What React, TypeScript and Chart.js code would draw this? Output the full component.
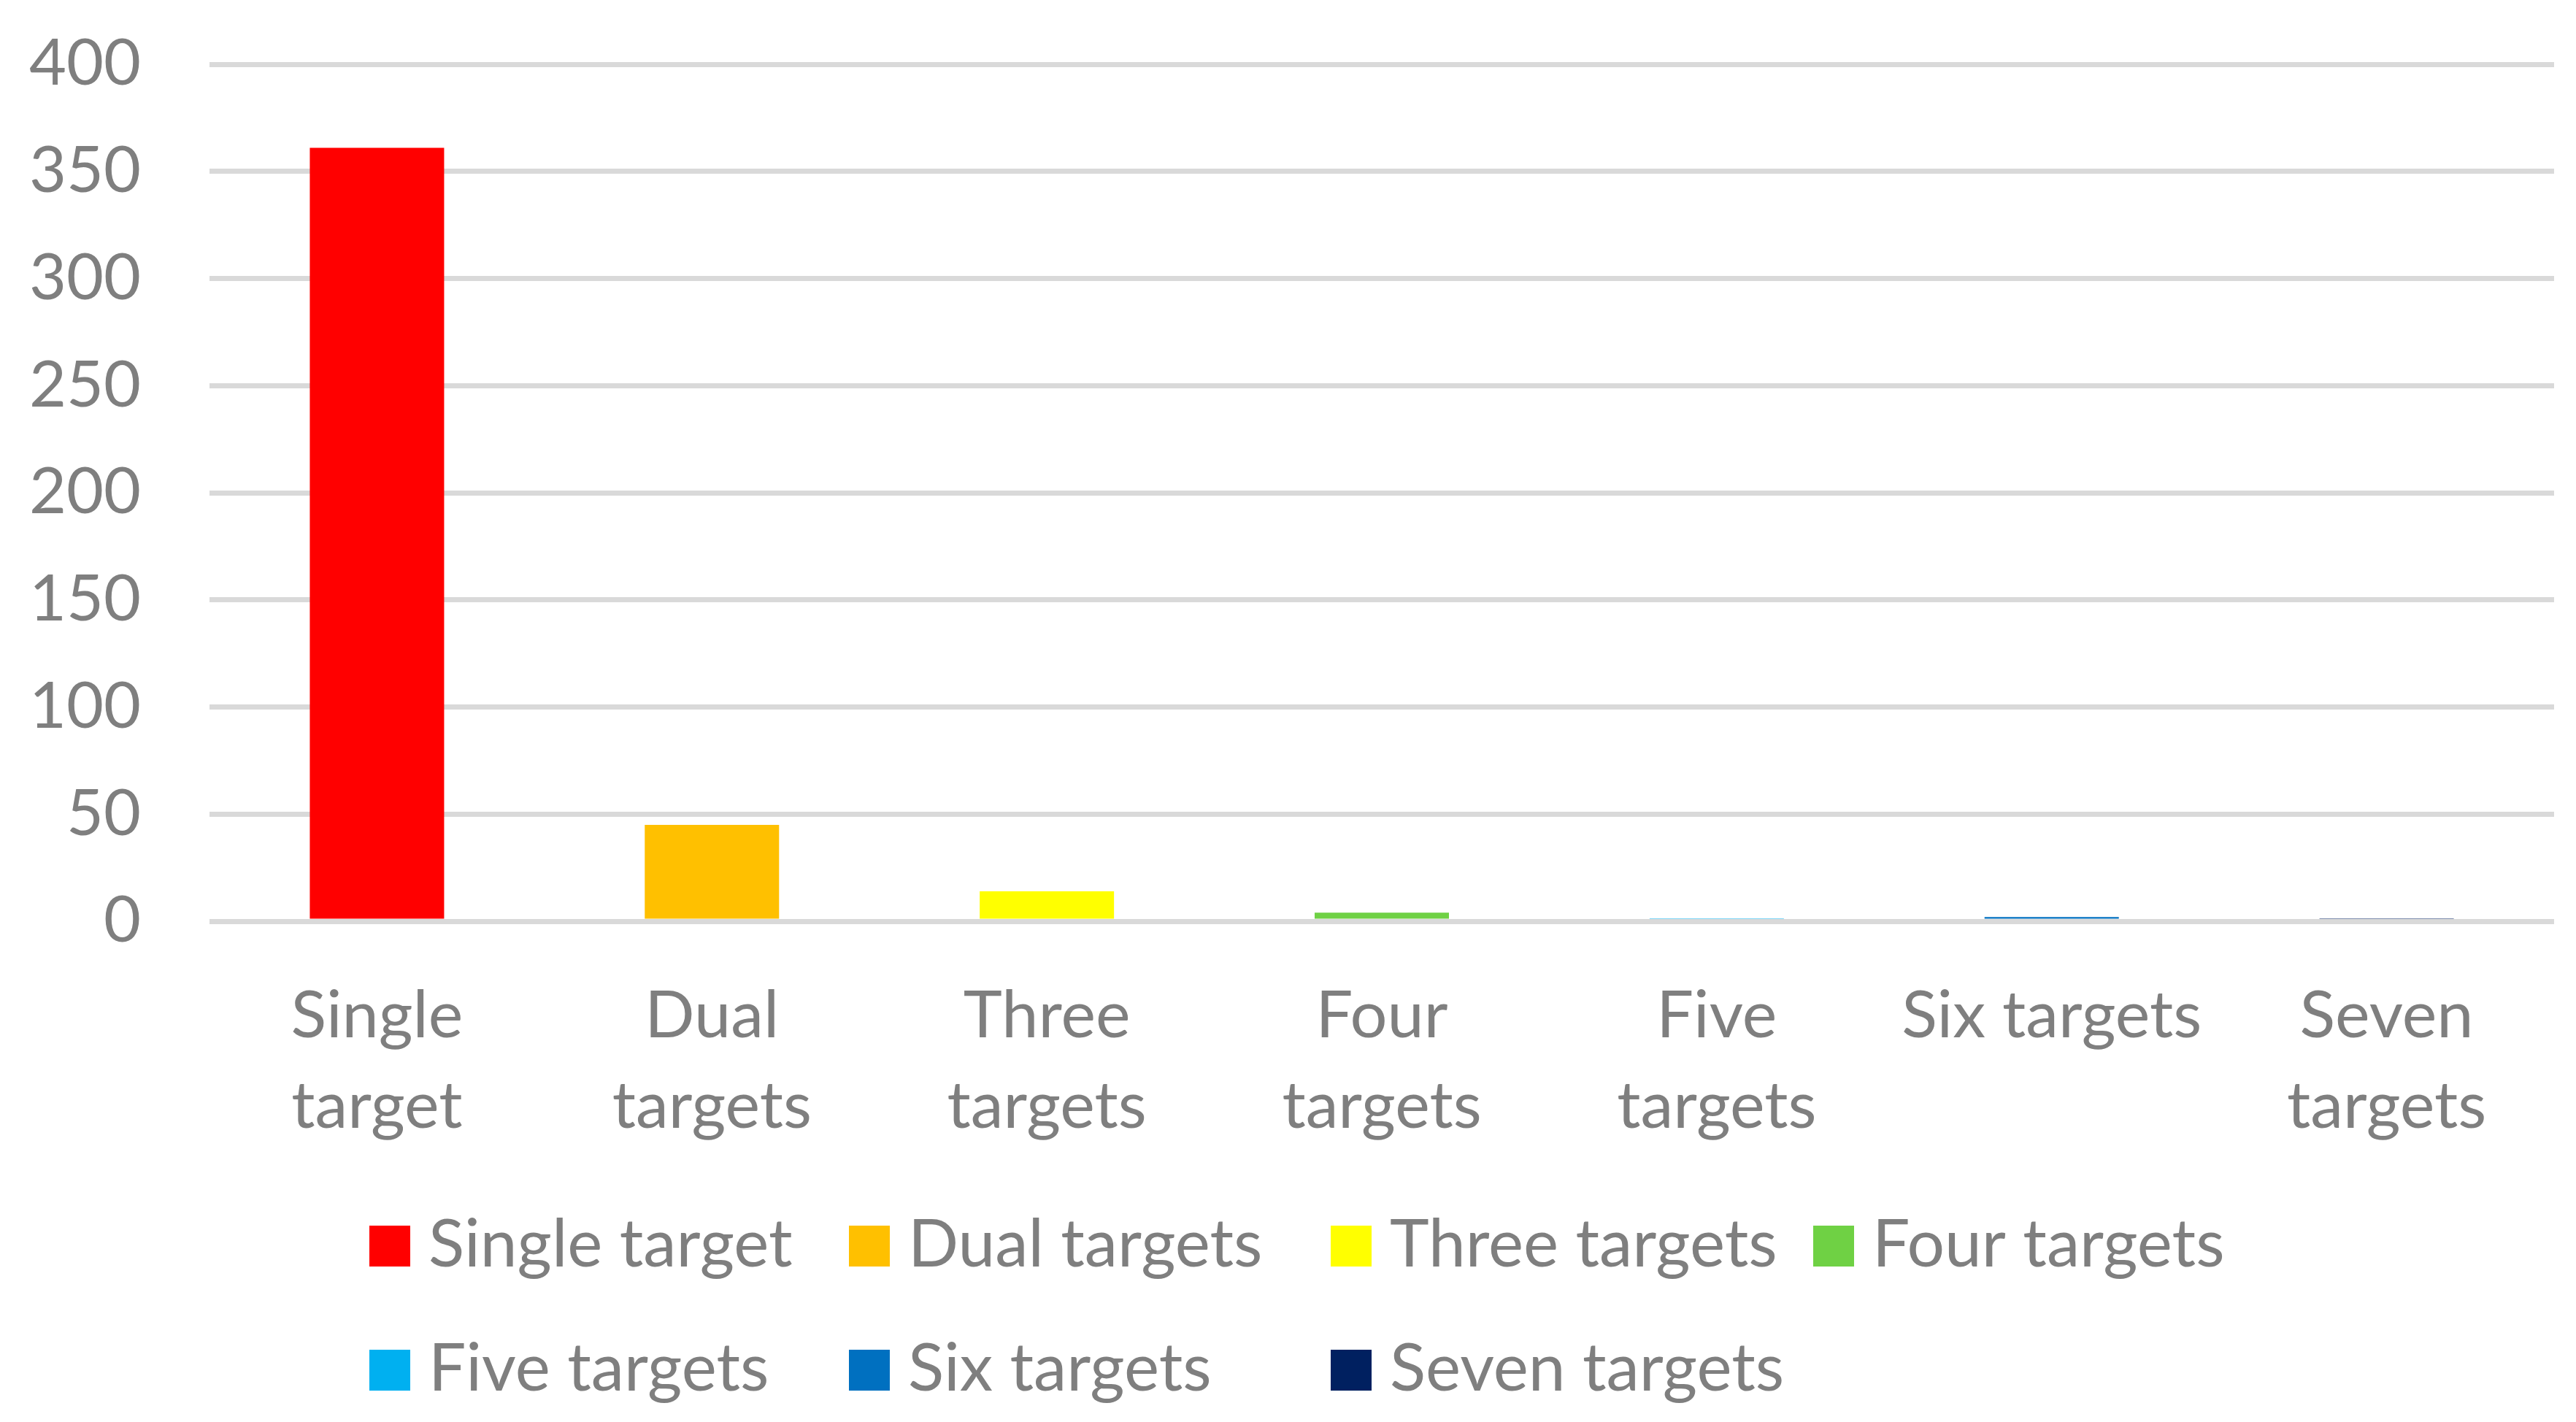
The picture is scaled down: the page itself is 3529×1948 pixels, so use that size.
import { useEffect, useRef } from "react";
import { Chart, registerables } from "chart.js";

Chart.register(...registerables);

const categories: (string | string[])[] = [
  ["Single", "target"],
  ["Dual", "targets"],
  ["Three", "targets"],
  ["Four", "targets"],
  ["Five", "targets"],
  "Six targets",
  ["Seven", "targets"],
];
const legendLabels = [
  "Single target",
  "Dual targets",
  "Three targets",
  "Four targets",
  "Five targets",
  "Six targets",
  "Seven targets",
];
const values = [361, 45, 14, 4, 1, 2, 1];
const barColors = ["#FF0000", "#FFC000", "#FFFF00", "#6FD144", "#00B0F0", "#0070C0", "#002060"];
const yMin = 0;
const yMax = 400;
const yStep = 50;

const TEXT = "#7F7F7F";
const FONT = "Lato";

const gridLegend = {
  id: "gridLegend",
  afterDraw(chart: any) {
    const ctx = chart.ctx as CanvasRenderingContext2D;
    const colX = [506, 1163, 1823, 2484];
    const rowBase = [1735, 1905];
    const box = 56;
    const colors = chart.data.datasets[0].backgroundColor as string[];
    ctx.save();
    ctx.font = `91px ${FONT}`;
    ctx.textBaseline = "alphabetic";
    ctx.textAlign = "left";
    legendLabels.forEach((label, i) => {
      const c = i % 4;
      const r = Math.floor(i / 4);
      const x = colX[c];
      const y = rowBase[r];
      ctx.fillStyle = colors[i];
      ctx.fillRect(x, y - box, box, box);
      ctx.fillStyle = TEXT;
      ctx.fillText(label, x + box + 25, y);
    });
    ctx.restore();
  },
};

export default function App() {
  const ref = useRef<HTMLCanvasElement | null>(null);
  useEffect(() => {
    document.body.style.margin = "0";
    if (!ref.current) return;
    const chart = new Chart(ref.current, {
      type: "bar",
      data: {
        labels: categories as any,
        datasets: [
          {
            data: values,
            backgroundColor: barColors,
            borderWidth: 0,
            barPercentage: 0.401,
            categoryPercentage: 1.0,
          },
        ],
      },
      options: {
        animation: false,
        responsive: false,
        layout: { padding: { top: 88, right: 30, left: 0, bottom: 0 } },
        plugins: { legend: { display: false }, tooltip: { enabled: false } },
        scales: {
          x: {
            grid: { display: false, drawTicks: false },
            border: { display: false },
            ticks: {
              color: TEXT,
              font: { family: FONT, size: 90, lineHeight: "124px" as any },
              padding: 68,
              maxRotation: 0,
              minRotation: 0,
              autoSkip: false,
            },
            afterFit(scale: any) {
              scale.height = 686;
              scale.paddingLeft = 0;
              scale.paddingRight = 0;
            },
          },
          y: {
            min: yMin,
            max: yMax,
            grid: { color: "#D9D9D9", lineWidth: 7, drawTicks: false },
            border: { display: false },
            ticks: {
              stepSize: yStep,
              color: TEXT,
              font: { family: FONT, size: 88 },
              padding: 94,
            },
            afterFit(scale: any) {
              scale.width = 287;
              scale.paddingTop = 0;
              scale.paddingBottom = 0;
            },
          },
        },
      },
      plugins: [gridLegend],
    });
    return () => chart.destroy();
  }, []);
  return (
    <div style={{ width: 3529, height: 1948, background: "#fff" }}>
      <canvas ref={ref} width={3529} height={1948} style={{ display: "block" }} />
    </div>
  );
}
